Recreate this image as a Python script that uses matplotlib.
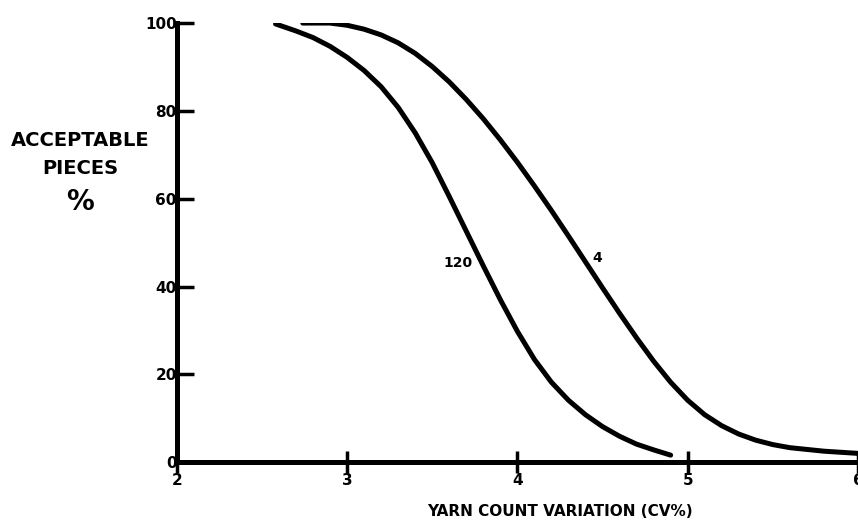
import numpy as np
import matplotlib
matplotlib.use("Agg")
from matplotlib import pyplot as plt

# データ
x_ticks = [2, 3, 4, 5, 6]
y_ticks = [0, 20, 40, 60, 80, 100]

# 曲線 "120"
left_x = [2.58, 2.7, 2.8, 2.9, 3.0, 3.1, 3.2, 3.3, 3.4, 3.5, 3.6, 3.7, 3.8, 3.9,
          4.0, 4.1, 4.2, 4.3, 4.4, 4.5, 4.6, 4.7, 4.8, 4.9]
left_y = [99.8, 98.2, 96.7, 94.7, 92.2, 89.2, 85.5, 80.8, 75.0, 68.2, 60.5, 52.6, 44.7, 37.0,
          29.8, 23.4, 18.2, 14.1, 10.8, 8.1, 5.9, 4.1, 2.8, 1.6]

# 曲線 "4"
right_x = [2.74, 2.9, 3.0, 3.1, 3.2, 3.3, 3.4, 3.5, 3.6, 3.7, 3.8, 3.9, 4.0, 4.1,
           4.2, 4.3, 4.4, 4.5, 4.6, 4.7, 4.8, 4.9, 5.0, 5.1, 5.2, 5.3, 5.4, 5.5,
           5.6, 5.8, 6.0]
right_y = [100, 100, 99.5, 98.6, 97.3, 95.5, 93.1, 90.1, 86.6, 82.6, 78.2, 73.4, 68.3, 62.9,
           57.3, 51.5, 45.6, 39.7, 33.9, 28.3, 23.0, 18.2, 14.1, 10.8, 8.3, 6.4, 5.0, 4.0,
           3.3, 2.5, 2.0]

fig = plt.figure(figsize=(8.58, 5.24), dpi=100)
ax = fig.add_axes([0.206, 0.118, 0.794, 0.838])

lw = 3.6
ax.plot(left_x, left_y, color="black", lw=lw, solid_capstyle="round", solid_joinstyle="round")
ax.plot(right_x, right_y, color="black", lw=lw, solid_capstyle="round", solid_joinstyle="round")

ax.set_xlim(2, 6)
ax.set_ylim(0, 100)
ax.set_xticks(x_ticks)
ax.set_yticks(y_ticks)
ax.set_xticklabels([str(v) for v in x_ticks], fontsize=11, fontweight="heavy")
ax.set_yticklabels([str(v) for v in y_ticks], fontsize=11, fontweight="heavy")

for s in ["top", "right"]:
    ax.spines[s].set_visible(False)
for s in ["left", "bottom"]:
    ax.spines[s].set_linewidth(3.6)
ax.tick_params(axis="x", direction="inout", length=16, width=2.5, pad=0)
ax.tick_params(axis="y", direction="in", length=12, width=2.5, pad=0)

# 曲線ラベル
ax.text(3.65, 45.3, "120", fontsize=10, fontweight="heavy", ha="center", va="center")
ax.text(4.44, 46.5, "4", fontsize=10, fontweight="heavy", ha="left", va="center")

# 軸ラベル
fig.text(80 / 858, 1 - 141 / 524, "ACCEPTABLE", fontsize=14, fontweight="heavy", ha="center", va="center")
fig.text(80 / 858, 1 - 168 / 524, "PIECES", fontsize=14, fontweight="heavy", ha="center", va="center")
fig.text(80 / 858, 1 - 202 / 524, "%", fontsize=20, fontweight="heavy", ha="center", va="center")
fig.text(560 / 858, 1 - 512 / 524, "YARN COUNT VARIATION (CV%)", fontsize=11, fontweight="heavy", ha="center", va="center")

plt.savefig("out.png", dpi=100)
